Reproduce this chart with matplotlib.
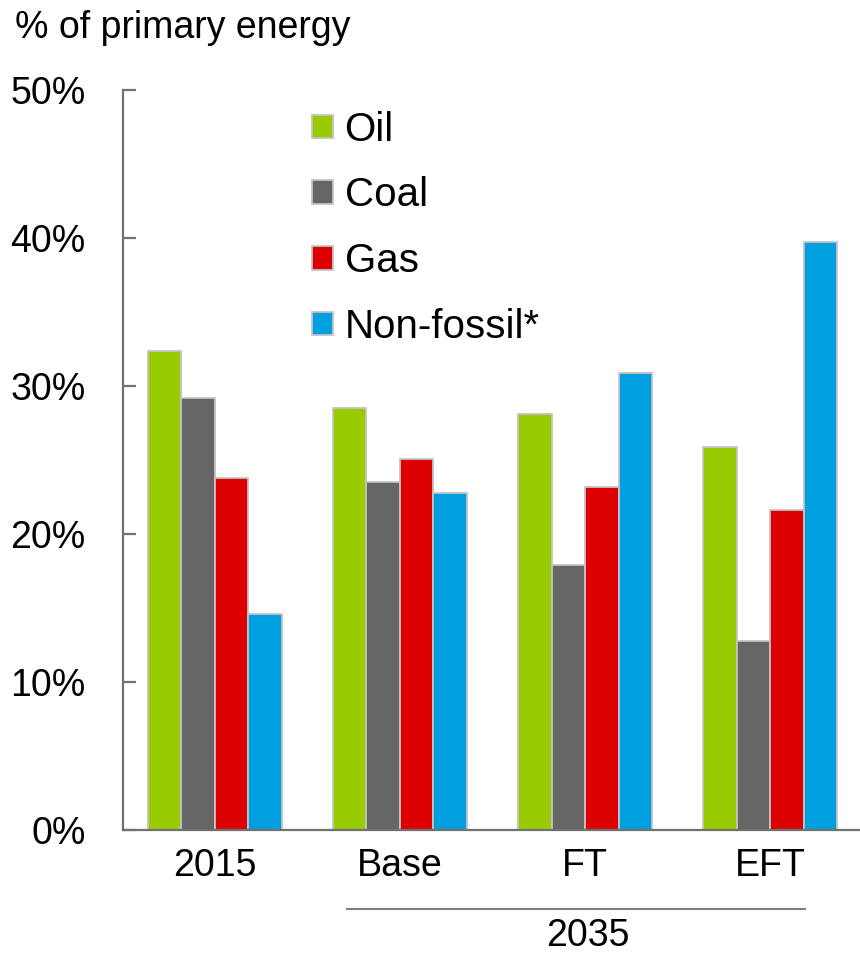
import matplotlib.pyplot as plt
import numpy as np

plt.rcParams['font.family'] = ['Liberation Sans', 'DejaVu Sans']

groups = ['2015', 'Base', 'FT', 'EFT']
fuels = ['Oil', 'Coal', 'Gas', 'Non-fossil*']
oil = [32.4, 28.5, 28.1, 25.9]
coal = [29.2, 23.5, 17.9, 12.8]
gas = [23.8, 25.1, 23.2, 21.6]
non_fossil = [14.6, 22.8, 30.9, 39.7]
colors = ['#99cc00', '#666666', '#dd0000', '#009fdf']

series = [oil, coal, gas, non_fossil]

fig = plt.figure(figsize=(8.6, 9.58), dpi=100)
ax = fig.add_axes([0.143, 0.1336, 0.857, 0.7724])

x = np.arange(len(groups))
w = 0.181
for i, (vals, name, col) in enumerate(zip(series, fuels, colors)):
    ax.bar(x + (i - 1.5) * w, vals, width=w, color=col, edgecolor='#c4c4c4',
           linewidth=1.3, label=name)

ax.set_xlim(-0.497, 3.486)
ax.set_ylim(0, 50)
ax.set_yticks(range(0, 51, 10))
ax.set_yticklabels([f'{v}%' for v in range(0, 51, 10)])
ax.set_xticks(x)
ax.set_xticklabels(groups)

for s in ['top', 'right']:
    ax.spines[s].set_visible(False)
for s in ['left', 'bottom']:
    ax.spines[s].set_color('#707070')
    ax.spines[s].set_linewidth(1.6)

ax.tick_params(axis='y', direction='in', length=9, width=1.6, color='#707070',
               labelsize=27, pad=27)
ax.tick_params(axis='x', length=0, labelsize=27, pad=13)

leg = ax.legend(loc='upper left', bbox_to_anchor=(0.235, 0.994), frameon=False,
                fontsize=29, handlelength=0.52, handleheight=0.52,
                handletextpad=0.28, labelspacing=0.69, borderaxespad=0)

# bracket grouping the 2035 scenarios
fig.add_artist(plt.Line2D([347 / 860, 805 / 860], [1 - 909 / 958, 1 - 909 / 958],
                          color='#808080', linewidth=1.5))
fig.text(588 / 860, 1 - 946 / 958, '2035', ha='center', va='baseline', fontsize=27)
fig.text(15 / 860, 1 - 28 / 958, '% of primary energy', ha='left', va='center',
         fontsize=27)

fig.savefig('out.png', dpi=100)
